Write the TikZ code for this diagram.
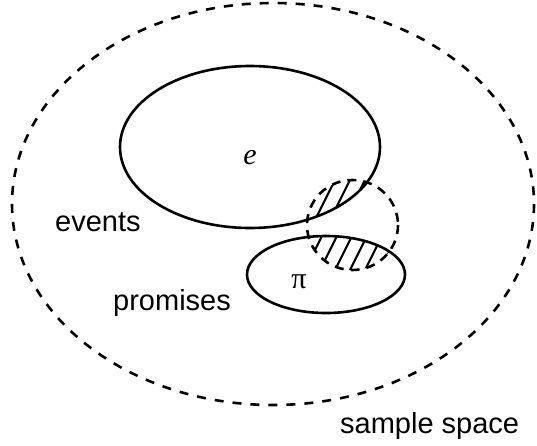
\documentclass[tikz,border=0pt]{standalone}
\usepackage{fontspec}
\setmainfont{Liberation Serif}
\setsansfont{Liberation Sans}
\begin{document}
\begin{tikzpicture}[x=1pt,y=-1pt,
  setline/.style={line width=2.6pt},
  dashline/.style={line width=2.6pt,dash pattern=on 9pt off 9pt},
  hatchline/.style={line width=2.2pt},
  lbl/.style={inner sep=0pt,font=\sffamily\fontsize{29}{30}\selectfont},
  sym/.style={inner sep=0pt,font=\fontsize{30}{32}\selectfont}]
\useasboundingbox (0,0) rectangle (537,445);
% sample space
\draw[dashline] (273,204) ellipse [x radius=261, y radius=201];
% hatching: circle ∩ events
\begin{scope}
  \clip (352.5,225) ellipse [x radius=45.5, y radius=45];
  \clip (250,147) ellipse [x radius=130, y radius=81];
  \foreach \i in {200,215,...,420} \draw[hatchline] (\i,300) -- (\i+60,180);
\end{scope}
% hatching: circle ∩ promises
\begin{scope}
  \clip (352.5,225) ellipse [x radius=45.5, y radius=45];
  \clip (326,274.5) ellipse [x radius=79, y radius=38.5];
  \foreach \i in {200,215,...,420} \draw[hatchline] (\i,300) -- (\i+60,180);
\end{scope}
% sets
\draw[setline] (250,147) ellipse [x radius=130, y radius=81];
\draw[setline] (326,274.5) ellipse [x radius=79, y radius=38.5];
\draw[dashline,dash pattern=on 9pt off 7pt] (352.5,225) ellipse [x radius=45.5, y radius=45];
% labels
\node[sym,anchor=base] (e) at (250,164) {\itshape e};
\node[sym,anchor=base] (pi) at (299,288) {π};
\node[lbl,anchor=base west] (events) at (55,231) {events};
\node[lbl,anchor=base west] (promises) at (113,310) {promises};
\node[lbl,anchor=base west] (sample) at (340,433) {sample space};
\end{tikzpicture}
\end{document}
